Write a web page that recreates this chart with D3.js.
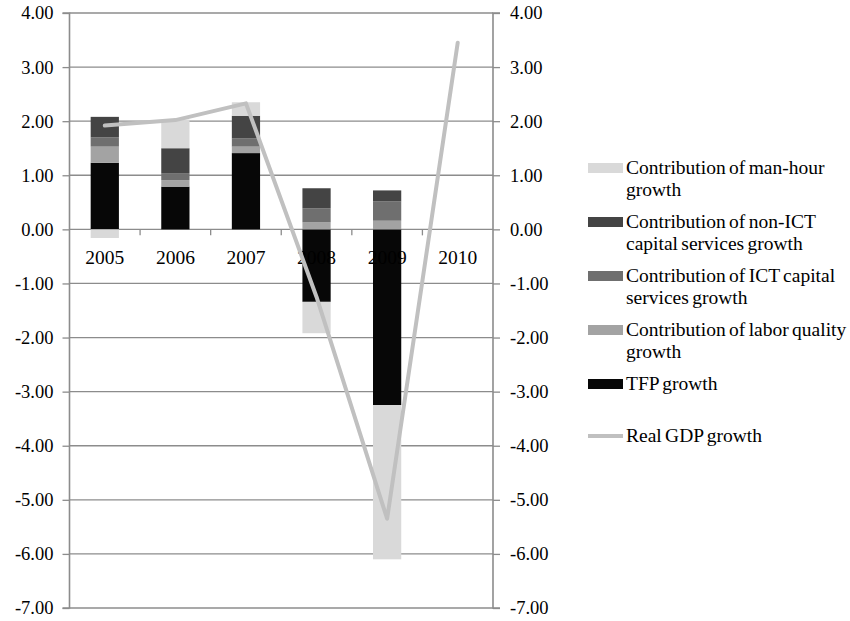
<!DOCTYPE html>
<html><head><meta charset="utf-8">
<script src="https://cdn.jsdelivr.net/npm/d3@7"></script>
<style>
html,body{margin:0;padding:0;background:#fff;}
svg{display:block;font-family:"Liberation Serif","Times New Roman",serif;}
</style></head>
<body><svg id="c" width="850" height="621"></svg>
<script>
const years = ["2005","2006","2007","2008","2009","2010"];
const tfp        = [1.23, 0.79, 1.41, -1.34, -3.25, 0];
const laborQual  = [0.30, 0.12, 0.12, 0.13, 0.16, 0];
const ictCap     = [0.17, 0.13, 0.15, 0.26, 0.36, 0];
const nonIctCap  = [0.38, 0.46, 0.42, 0.37, 0.20, 0];
const manHour    = [-0.16, 0.53, 0.25, -0.58, -2.85, 0];
const realGdp    = [1.92, 2.02, 2.33, -1.25, -5.35, 3.45];
const yTicks = [4,3,2,1,0,-1,-2,-3,-4,-5,-6,-7];
const seriesNames = ["TFP growth","Contribution of labor quality growth","Contribution of ICT capital services growth","Contribution of non-ICT capital services growth","Contribution of man-hour growth"];
const seriesColors = ["#070707","#a3a3a3","#6f6f6f","#444444","#d9d9d9"];
const legendLines = [
  ["Contribution of man-hour","growth"],
  ["Contribution of non-ICT","capital services growth"],
  ["Contribution of ICT capital","services growth"],
  ["Contribution of labor quality","growth"],
  ["TFP growth"]
];
const legendColors = ["#d9d9d9","#444444","#6f6f6f","#a3a3a3","#070707"];
const gdpName = "Real GDP growth";
const gdpColor = "#c0c0c0";

const svg = d3.select("#c");
const L = 69.5, R = 493, T = 13, B = 608;
const x = d3.scaleBand().domain(years).range([L, R]).paddingInner(0.6).paddingOuter(0.3);
const xc = d3.scaleBand().domain(years).range([L, R]);
const y = d3.scaleLinear().domain([-7, 4]).range([B, T]);
const fsTick = 18.5, fsCat = 19.5, fsLeg = 19.5;
const axisCol = "#8c8c8c";
const fmt = d => d.toFixed(2);

// gridlines
svg.append("g").selectAll("line").data(yTicks).join("line")
  .attr("x1", L).attr("x2", R).attr("y1", d=>y(d)).attr("y2", d=>y(d))
  .attr("stroke", axisCol).attr("stroke-width", 1.3);

// left axis
const la = svg.append("g").attr("transform", `translate(${L},0)`)
  .call(d3.axisLeft(y).tickValues(yTicks).tickFormat(fmt).tickSize(7).tickPadding(9));
la.select(".domain").attr("stroke", axisCol).attr("stroke-width", 1.6);
la.selectAll(".tick line").attr("stroke", axisCol).attr("stroke-width", 1.3);
la.selectAll("text").attr("font-size", fsTick).attr("font-family","Liberation Serif").attr("fill","#000");

const ra = svg.append("g").attr("transform", `translate(${R},0)`)
  .call(d3.axisRight(y).tickValues(yTicks).tickFormat(fmt).tickSize(7).tickPadding(10));
ra.select(".domain").attr("stroke", axisCol).attr("stroke-width", 1.6);
ra.selectAll(".tick line").attr("stroke", axisCol).attr("stroke-width", 1.3);
ra.selectAll("text").attr("font-size", fsTick).attr("font-family","Liberation Serif").attr("fill","#000");
la.select(".domain").attr("d", `M-7,${T}H0V${B}H-7`);
ra.select(".domain").attr("d", `M7,${T}H0V${B}H7`);

// category ticks at zero line
svg.append("g").selectAll("line").data(years.slice(1)).join("line")
  .attr("x1", d=>xc(d)).attr("x2", d=>xc(d)).attr("y1", y(0)).attr("y2", y(0)+6)
  .attr("stroke", axisCol).attr("stroke-width", 1.3);

// stacked bars
const table = years.map((yr,i)=>({year:yr, s0:tfp[i], s1:laborQual[i], s2:ictCap[i], s3:nonIctCap[i], s4:manHour[i]}));
const stack = d3.stack().keys(["s0","s1","s2","s3","s4"]).offset(d3.stackOffsetDiverging)(table);
svg.append("g").selectAll("g").data(stack).join("g")
  .attr("fill", (d,i)=>seriesColors[i])
  .selectAll("rect").data(d=>d).join("rect")
  .attr("x", d=>x(d.data.year)).attr("width", x.bandwidth())
  .attr("y", d=>y(Math.max(d[0],d[1]))).attr("height", d=>Math.abs(y(d[0])-y(d[1])));

// category labels
svg.append("g").selectAll("text").data(years).join("text")
  .attr("x", d=>xc(d)+xc.bandwidth()/2).attr("y", y(0)+35)
  .attr("text-anchor","middle").attr("font-size", fsCat).text(d=>d);

// GDP line
svg.append("path").datum(realGdp)
  .attr("d", d3.line().x((d,i)=>xc(years[i])+xc.bandwidth()/2).y(d=>y(d)))
  .attr("fill","none").attr("stroke", gdpColor).attr("stroke-width", 4)
  .attr("stroke-linejoin","round").attr("stroke-linecap","round");

// legend
const lg = svg.append("g");
const lx = 588, ly0 = 168, step = 54, lh = 22;
legendLines.forEach((lines, i) => {
  const cy = ly0 + i*step;
  lg.append("rect").attr("x", lx).attr("y", cy-5).attr("width", 35).attr("height", 10).attr("fill", legendColors[i]);
  const t = lg.append("text").attr("x", lx+38).attr("y", cy+6).attr("font-size", fsLeg).attr("word-spacing", -1.5);
  lines.forEach((ln, j) => t.append("tspan").attr("x", lx+38).attr("dy", j===0?0:lh).text(ln));
});
const gy = ly0 + 5*step - 2;
lg.append("line").attr("x1", lx).attr("x2", lx+35).attr("y1", gy).attr("y2", gy)
  .attr("stroke", gdpColor).attr("stroke-width", 4);
lg.append("text").attr("x", lx+38).attr("y", gy+6).attr("font-size", fsLeg).attr("word-spacing", -1.5).text(gdpName);
</script></body></html>
